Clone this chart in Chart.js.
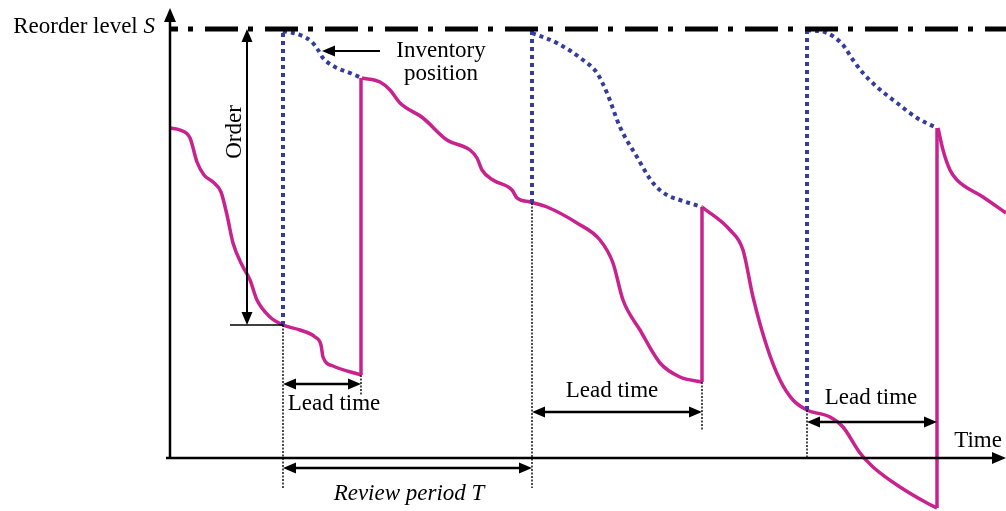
<!DOCTYPE html>
<html>
<head>
<title>Periodic review inventory</title>
<style>
    body { margin: 0; padding: 0; background: #fff; }
    #wrap { width: 1006px; height: 511px; }
</style>
<script src="https://cdn.jsdelivr.net/npm/chart.js"></script>
</head>
<body>
<div id="wrap"><canvas id="chart"></canvas></div>
<script>
    // time on x, stock level on y (axis origin = 0,0)
    var reorderLevel = 429;
    var timeEnd = 836;

    // on-hand stock, one piece per cycle
    var stock1 = [[0,330],[10,328],[20,320],[27,296],[34,283],[43,276],[51,266],[57,243],[63,215],[72,193],[80,178],[87,158],[100,141],[113,133],[130,128],[145,121],[151,113],[153,101],[163,92],[191,83]];
    var stock2 = [[192,380],[210,376],[220,368],[230,355],[253,340],[277,318],[300,308],[307,300],[312,288],[323,278],[342,268],[347,260],[360,256],[377,251],[407,235],[430,218],[443,195],[453,158],[470,128],[490,95],[510,81],[532,76]];
    var stock3 = [[532,251],[560,228],[573,208],[583,161],[597,111],[610,78],[623,58],[637,48],[660,41],[673,31],[690,5],[703,-9],[730,-29],[757,-45],[767,-50]];
    var stock4 = [[768,330],[773,308],[780,288],[787,278],[813,261],[836,245]];
    // deliveries (vertical jumps): time, before, after
    var deliveries = [[191,83,380],[532,76,251],[767,-50,330]];

    // inventory position after each order
    var position1 = [[113,427],[130,423],[142,416],[148,408],[153,400],[165,391],[180,385],[192,380]];
    var position2 = [[362,425],[387,415],[413,398],[427,385],[437,365],[450,331],[467,301],[483,275],[497,263],[510,258],[532,251]];
    var position3 = [[637,428],[657,425],[673,413],[683,398],[693,385],[707,371],[727,355],[747,340],[767,330]];
    // review moments: time, stock level when the order is placed
    var reviews = [[113,133],[362,255],[637,48]];

    // thin dotted guides: time, from, to
    var guides = [[113,133,-30],[191,83,63],[362,255,-30],[532,76,28],[637,48,0]];

    // lead time spans: from, to, arrow level, label time, label level
    var leadTimes = [[113,191,74,164,54],[362,532,46,442,67],[637,767,36,701,60]];
    var reviewSpan = [113,362,-10,239,-36];
    var orderArrow = [77,133,429];

    var magenta = '#c8228f';
    var blue = '#343c9c';

    function pts(arr) {
        return arr.map(function (p) { return {x: p[0], y: p[1]}; });
    }

    function line(data, color, width, dash, smooth) {
        var ds = {
            data: data,
            showLine: true,
            borderColor: color,
            borderWidth: width,
            borderDash: dash || [],
            pointRadius: 0,
            fill: false
        };
        if (smooth) ds.cubicInterpolationMode = 'monotone';
        return ds;
    }

    var datasets = [];
    // axes
    datasets.push(line([{x: 0, y: 0}, {x: 0, y: 446}], '#000', 2.5));
    datasets.push(line([{x: -4, y: 0}, {x: timeEnd - 6, y: 0}], '#000', 2.5));
    // reorder level S
    var sLine = line([{x: 0, y: reorderLevel}, {x: timeEnd, y: reorderLevel}], '#000', 5, [33, 10, 5, 12]);
    sLine.borderDashOffset = 25;
    datasets.push(sLine);
    // guides
    guides.forEach(function (g) {
        datasets.push(line([{x: g[0], y: g[1]}, {x: g[0], y: g[2]}], '#000', 1.4, [2, 1.5]));
    });
    // inventory position
    reviews.forEach(function (r) {
        datasets.push(line([{x: r[0], y: r[1]}, {x: r[0], y: reorderLevel - 2}], blue, 4, [4, 4]));
    });
    [position1, position2, position3].forEach(function (p) {
        datasets.push(line(pts(p), blue, 4, [4, 4], true));
    });
    // stock on hand
    [stock1, stock2, stock3, stock4].forEach(function (s) {
        datasets.push(line(pts(s), magenta, 3.5, null, true));
    });
    deliveries.forEach(function (d) {
        datasets.push(line([{x: d[0], y: d[1]}, {x: d[0], y: d[2]}], magenta, 3.5));
    });

    var serif = '"Liberation Serif", "DejaVu Serif", serif';
    var fontSize = 23;

    var overlay = {
        id: 'overlay',
        afterDatasetsDraw: function (chart) {
            var ctx = chart.ctx;
            var xs = chart.scales.x, ys = chart.scales.y;
            function px(v) { return xs.getPixelForValue(v); }
            function py(v) { return ys.getPixelForValue(v); }

            function head(x, y, dx, dy, len, half) {
                var nx = -dy, ny = dx;
                ctx.beginPath();
                ctx.moveTo(x, y);
                ctx.lineTo(x - dx * len + nx * half, y - dy * len + ny * half);
                ctx.lineTo(x - dx * len - nx * half, y - dy * len - ny * half);
                ctx.closePath();
                ctx.fill();
            }
            function arrow(x1, y1, x2, y2, both, w) {
                var a = px(x1), b = py(y1), c = px(x2), d = py(y2);
                var L = Math.hypot(c - a, d - b), dx = (c - a) / L, dy = (d - b) / L;
                ctx.save();
                ctx.strokeStyle = '#000';
                ctx.fillStyle = '#000';
                ctx.lineWidth = w || 2;
                ctx.beginPath();
                ctx.moveTo(a + (both ? dx * 8 : 0), b + (both ? dy * 8 : 0));
                ctx.lineTo(c - dx * 8, d - dy * 8);
                ctx.stroke();
                head(c, d, dx, dy, 13, 5.5);
                if (both) head(a, b, -dx, -dy, 13, 5.5);
                ctx.restore();
            }
            function text(str, x, y, align, italic, rot) {
                ctx.save();
                ctx.fillStyle = '#000';
                ctx.font = (italic ? 'italic ' : '') + fontSize + 'px ' + serif;
                ctx.textAlign = align || 'center';
                ctx.textBaseline = 'middle';
                ctx.translate(px(x), py(y));
                if (rot) ctx.rotate(rot);
                ctx.fillText(str, 0, 0);
                ctx.restore();
            }

            // axis arrowheads
            ctx.save();
            ctx.fillStyle = '#000';
            head(px(0), py(450), 0, -1, 14, 6);
            head(px(timeEnd), py(0), 1, 0, 14, 6);
            ctx.restore();

            // order arrow and its base tick
            arrow(orderArrow[0], orderArrow[1], orderArrow[0], orderArrow[2], true, 2);
            ctx.save();
            ctx.strokeStyle = '#000';
            ctx.lineWidth = 1.5;
            ctx.beginPath();
            ctx.moveTo(px(60), py(orderArrow[1]));
            ctx.lineTo(px(reviews[0][0]), py(orderArrow[1]));
            ctx.stroke();
            ctx.restore();
            text('Order', 65, 326, 'center', false, -Math.PI / 2);

            // lead times
            leadTimes.forEach(function (l) {
                arrow(l[0], l[2], l[1], l[2], true, 2.5);
                text('Lead time', l[3], l[4]);
            });
            arrow(reviewSpan[0], reviewSpan[2], reviewSpan[1], reviewSpan[2], true, 2.5);
            text('Review period T', reviewSpan[3], reviewSpan[4], 'center', true);

            // inventory position label
            arrow(210, 407, 152, 407, false, 2);
            text('Inventory', 271, 407);
            text('position', 271, 384);

            text('Time', 808, 17);

            // reorder level label: regular text plus italic S
            ctx.save();
            ctx.fillStyle = '#000';
            ctx.textBaseline = 'middle';
            ctx.textAlign = 'right';
            ctx.font = 'italic ' + fontSize + 'px ' + serif;
            var sx = px(-15), sy = py(431);
            ctx.fillText('S', sx, sy);
            var sw = ctx.measureText('S').width;
            ctx.font = fontSize + 'px ' + serif;
            ctx.fillText('Reorder level ', sx - sw, sy);
            ctx.restore();
        }
    };

    var chart = new Chart(document.getElementById('chart'), {
        type: 'scatter',
        data: { datasets: datasets },
        options: {
            responsive: true,
            maintainAspectRatio: false,
            animation: false,
            layout: { padding: 0 },
            plugins: { legend: { display: false }, tooltip: { enabled: false } },
            scales: {
                x: { type: 'linear', display: false, min: -170, max: timeEnd },
                y: { type: 'linear', display: false, min: -53, max: 458 }
            }
        },
        plugins: [overlay]
    });
</script>
</body>
</html>
